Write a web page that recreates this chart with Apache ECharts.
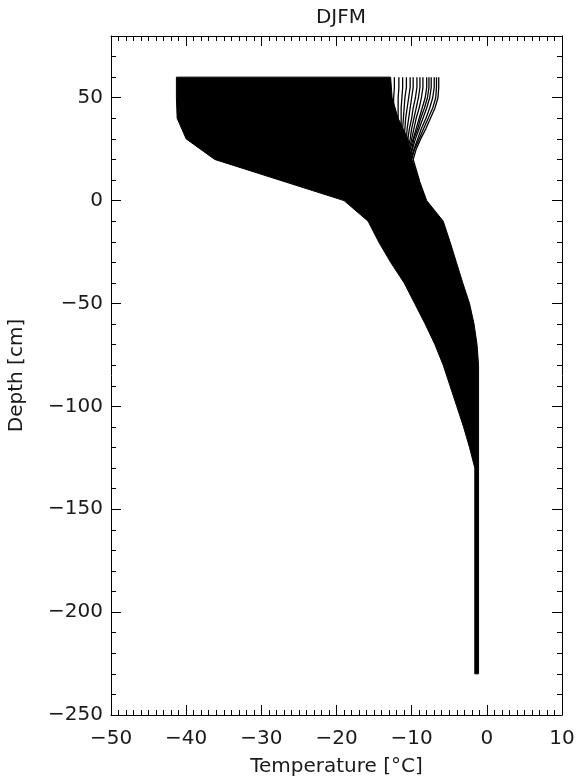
<!DOCTYPE html>
<html>
<head>
<meta charset="utf-8">
<script src="https://cdn.jsdelivr.net/npm/echarts@6/dist/echarts.min.js"></script>
<style>
html, body { margin: 0; padding: 0; background: #fff; }
#chart { width: 577px; height: 781px; }
</style>
</head>
<body>
<div id="chart"></div>
<script>
// depth [cm] / temperature [°C]

// coldest edge of the profile bundle
const coldDepth = [60, 50, 40, 30, 20, 0, -10, -20, -30, -40, -50, -60, -70, -80, -90, -100, -110, -120, -130, -230]
const coldTemp = [-41.3, -41.3, -41.2, -40.0, -36.2, -19.0, -15.8, -14.4, -12.8, -11.0, -9.6, -8.2, -6.9, -5.8, -4.9, -4.0, -3.1, -2.3, -1.6, -1.6]

// right edge of the dense (solid black) part of the bundle
const denseDepth = [60, 50, 40, 30, 20, 10, 0, -10, -20, -30, -40, -50, -60, -70, -80, -230]
const denseTemp = [-12.8, -12.6, -11.8, -10.5, -10.0, -9.0, -8.0, -5.8, -4.9, -4.05, -3.2, -2.3, -1.7, -1.3, -1.1, -1.1]

// individual warm profiles that stand out near the surface
const profileDepth = [60, 55, 50, 45, 40, 35, 30, 25, 20, 10]
const profiles = [
	[-6.4, -6.4, -6.5, -6.9, -7.5, -8.1, -8.8, -9.4, -9.8, -9.0],
	[-6.7, -6.7, -6.8, -7.2, -7.8, -8.4, -9.0, -9.6, -10.0, -9.2],
	[-7.0, -7.0, -7.2, -7.6, -8.1, -8.7, -9.2, -9.7, -10.1, -9.3],
	[-7.4, -7.4, -7.6, -8.0, -8.5, -9.0, -9.5, -9.9, -10.2, -9.4],
	[-7.7, -7.7, -7.9, -8.3, -8.8, -9.2, -9.7, -10.0, -10.3, -9.5],
	[-8.0, -8.0, -8.2, -8.6, -9.0, -9.4, -9.8, -10.2, -10.4, -9.6],
	[-8.5, -8.5, -8.7, -9.0, -9.4, -9.7, -10.0, -10.3, -10.5, -9.7],
	[-8.9, -8.9, -9.1, -9.4, -9.7, -10.0, -10.2, -10.5, -10.6, -9.8],
	[-9.3, -9.3, -9.5, -9.8, -10.0, -10.3, -10.5, -10.6, -10.7, -9.9],
	[-9.8, -9.8, -10.0, -10.2, -10.4, -10.6, -10.7, -10.8, -10.8, -10.0],
	[-10.2, -10.2, -10.4, -10.6, -10.8, -10.9, -11.0, -11.0, -11.0, -10.1],
	[-10.7, -10.7, -10.9, -11.0, -11.1, -11.2, -11.2, -11.2, -11.1, -10.2],
	[-11.2, -11.2, -11.3, -11.4, -11.4, -11.4, -11.4, -11.3, -11.2, -10.3],
	[-11.7, -11.7, -11.8, -11.8, -11.8, -11.7, -11.6, -11.5, -11.3, -10.4],
	[-12.3, -12.3, -12.4, -12.4, -12.3, -12.1, -11.9, -11.7, -11.4, -10.5]
]

const font = 'DejaVu Sans'
const ink = '#1a1a1a'

function minus(v) {
	return String(v).replace('-', '\u2212')
}

function xAxisOf(pos, withLabels) {
	return {
		type: 'value',
		position: pos,
		min: -50,
		max: 10,
		interval: 10,
		name: withLabels ? 'Temperature [°C]' : '',
		nameLocation: 'middle',
		nameGap: 42,
		nameTextStyle: { fontFamily: font, fontSize: 20, color: ink },
		axisLine: { show: true, onZero: false, lineStyle: { color: '#000', width: 1 } },
		axisTick: { show: true, inside: true, length: 10, lineStyle: { color: '#000', width: 1 } },
		minorTick: { show: true, splitNumber: 10, length: 5, lineStyle: { color: '#000', width: 1 } },
		axisLabel: { show: withLabels, margin: 14, fontFamily: font, fontSize: 20, color: ink, formatter: minus },
		splitLine: { show: false },
		minorSplitLine: { show: false }
	}
}

function yAxisOf(pos, step, tickLen, withLine, withLabels) {
	return {
		type: 'value',
		position: pos,
		min: -250,
		max: 80,
		interval: step,
		name: withLabels ? 'Depth [cm]' : '',
		nameLocation: 'middle',
		nameGap: 84,
		nameTextStyle: { fontFamily: font, fontSize: 20, color: ink },
		axisLine: { show: withLine, onZero: false, lineStyle: { color: '#000', width: 1 } },
		axisTick: { show: true, inside: true, length: tickLen, lineStyle: { color: '#000', width: 1 } },
		axisLabel: { show: withLabels, margin: 8, showMaxLabel: false, fontFamily: font, fontSize: 20, color: ink, formatter: minus },
		splitLine: { show: false }
	}
}

const chart = echarts.init(document.getElementById('chart'), null, { renderer: 'canvas' })

const lineSeries = profiles.map(function (p) {
	return {
		type: 'line',
		xAxisIndex: 0,
		yAxisIndex: 0,
		showSymbol: false,
		silent: true,
		lineStyle: { color: '#000', width: 1.3 },
		data: profileDepth.map(function (d, i) { return [p[i], d] })
	}
})

chart.setOption({
	animation: false,
	title: {
		text: 'DJFM',
		left: 336,
		textAlign: 'center',
		top: 3,
		textStyle: { fontFamily: font, fontSize: 20, fontWeight: 'normal', color: ink }
	},
	grid: {
		left: 111,
		right: 15,
		top: 36,
		bottom: 66,
		containLabel: false,
		outerBoundsMode: 'none'
	},
	xAxis: [xAxisOf('bottom', true), xAxisOf('top', false)],
	yAxis: [
		yAxisOf('left', 50, 10, true, true),
		yAxisOf('left', 10, 5, false, false),
		yAxisOf('right', 50, 10, true, false),
		yAxisOf('right', 10, 5, false, false)
	],
	series: [
		{
			type: 'custom',
			xAxisIndex: 0,
			yAxisIndex: 0,
			silent: true,
			data: [[-20, 0]],
			renderItem: function (params, api) {
				const pts = []
				for (let i = 0; i < coldDepth.length; i++) {
					pts.push(api.coord([coldTemp[i], coldDepth[i]]))
				}
				for (let i = denseDepth.length - 1; i >= 0; i--) {
					pts.push(api.coord([denseTemp[i], denseDepth[i]]))
				}
				return {
					type: 'polygon',
					shape: { points: pts },
					style: { fill: '#000', stroke: '#000', lineWidth: 1 }
				}
			}
		}
	].concat(lineSeries)
})
</script>
</body>
</html>
